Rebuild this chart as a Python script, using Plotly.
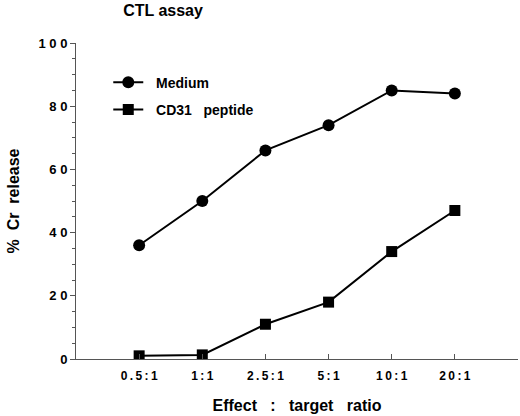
import plotly.graph_objects as go

# effector : target ratios and % Cr release
ratios = ["0.5:1", "1:1", "2.5:1", "5:1", "10:1", "20:1"]
medium = [36, 50, 66, 74, 85, 84]
cd31_peptide = [1, 1.3, 11, 18, 34, 47]
y_ticks = [0, 20, 40, 60, 80, 100]

x_pos = list(range(len(ratios)))
FONT = "Liberation Sans, Arial, sans-serif"


def spaced(s, sep="\u2009"):
    return sep.join(s)


fig = go.Figure()
fig.add_trace(go.Scatter(
    x=x_pos, y=medium, name="<b>  Medium</b>", legendgroup="a",
    mode="lines+markers",
    line=dict(color="black", width=2),
    marker=dict(symbol="circle", size=12, color="black"),
))
fig.add_trace(go.Scatter(
    x=x_pos, y=cd31_peptide, name="<b>  CD31   peptide</b>", legendgroup="b",
    mode="lines+markers",
    line=dict(color="black", width=2),
    marker=dict(symbol="square", size=11, color="black"),
))

fig.update_layout(
    width=520, height=416,
    margin=dict(l=76, r=2, t=43, b=57),
    paper_bgcolor="white", plot_bgcolor="white",
    font=dict(family=FONT, color="black", size=13),
    title=dict(text="<b>CTL assay</b>", x=163 / 520, xanchor="center",
               y=1 - 10 / 416, yanchor="middle", font=dict(size=16)),
    showlegend=True,
    legend=dict(x=0.073, y=0.925, xanchor="left", yanchor="top",
                bgcolor="rgba(0,0,0,0)", traceorder="grouped",
                tracegroupgap=6, font=dict(size=14)),
)

fig.update_xaxes(
    range=[-1, 6],
    tickvals=x_pos + [6],
    ticktext=["<b>" + spaced(r) + "</b>" for r in ratios] + [""],
    ticks="inside", ticklen=5, tickcolor="#555", tickwidth=1,
    ticklabelstandoff=6,
    showline=True, linecolor="#555", linewidth=1,
    showgrid=False, zeroline=False,
    tickfont=dict(size=12),
    title=dict(text="<b>Effect   :   target   ratio</b>", standoff=17,
               font=dict(size=16)),
)
fig.update_yaxes(
    range=[0, 100],
    tickvals=y_ticks,
    ticktext=["<b>" + " ".join(str(v)) + "</b>" for v in y_ticks],
    ticks="outside", ticklen=5, tickcolor="#555", tickwidth=1,
    minor=dict(dtick=5, ticks="outside", ticklen=3, tickcolor="#555"),
    showline=True, linecolor="#555", linewidth=1,
    showgrid=False, zeroline=False,
    tickfont=dict(size=13),
    title=dict(text="<b>%  Cr  release</b>", standoff=14,
               font=dict(size=16)),
)

fig.write_html("out.html", config={"displayModeBar": False},
               post_script="document.body.style.margin='0';")
